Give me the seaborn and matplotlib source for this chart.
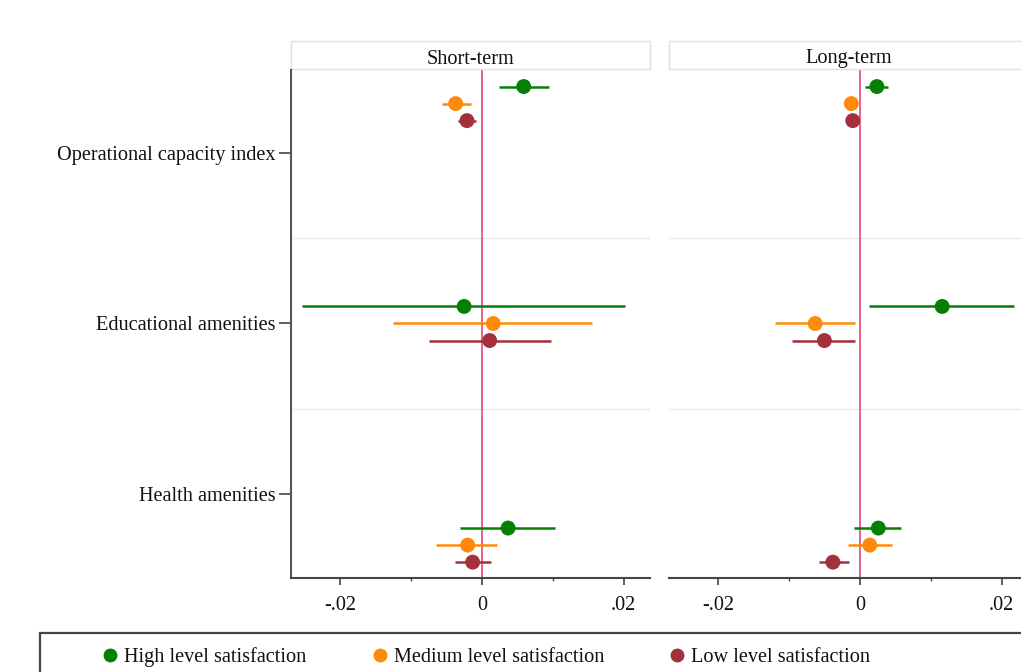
import matplotlib
matplotlib.use("Agg")
import matplotlib.pyplot as plt
from matplotlib.patches import Rectangle
from matplotlib.lines import Line2D
import numpy as np
import pandas as pd
import seaborn as sns

# ---------------- data ----------------
rows = ["Operational capacity index", "Educational amenities", "Health amenities"]
series = ["High level satisfaction", "Medium level satisfaction", "Low level satisfaction"]
panels = ["Short-term", "Long-term"]

# Short-term
short_high = [0.0059, -0.0025, 0.0037]
short_high_lo = [0.0024, -0.0254, -0.0031]
short_high_hi = [0.0094, 0.0202, 0.0103]
short_med = [-0.0037, 0.0016, -0.0020]
short_med_lo = [-0.0056, -0.0125, -0.0064]
short_med_hi = [-0.0015, 0.0155, 0.0021]
short_low = [-0.0021, 0.0011, -0.0013]
short_low_lo = [-0.0034, -0.0075, -0.0038]
short_low_hi = [-0.0008, 0.0098, 0.0013]

# Long-term
long_high = [0.0024, 0.0116, 0.0026]
long_high_lo = [0.0007, 0.0013, -0.0008]
long_high_hi = [0.0040, 0.0217, 0.0058]
long_med = [-0.0012, -0.0063, 0.0014]
long_med_lo = [-0.0015, -0.0119, -0.0017]
long_med_hi = [-0.0008, -0.0007, 0.0045]
long_low = [-0.0010, -0.0050, -0.0038]
long_low_lo = [-0.0013, -0.0095, -0.0058]
long_low_hi = [-0.0007, -0.0007, -0.0016]

xticks = [-0.02, 0.0, 0.02]
xticklabels = ["-.02", "0", ".02"]

# ---------------- layout / style ----------------
row_shift = [-0.29, 0.0, 0.30]
series_offset = [-0.1, 0.0, 0.1]
colors = ["#058005", "#ff8a0a", "#a3303a"]

records = []
panel_data = {
    "Short-term": [(short_high, short_high_lo, short_high_hi),
                   (short_med, short_med_lo, short_med_hi),
                   (short_low, short_low_lo, short_low_hi)],
    "Long-term": [(long_high, long_high_lo, long_high_hi),
                  (long_med, long_med_lo, long_med_hi),
                  (long_low, long_low_lo, long_low_hi)],
}
for p in panels:
    for si, s in enumerate(series):
        coef, lo, hi = panel_data[p][si]
        for ri, r in enumerate(rows):
            records.append(dict(panel=p, series=s, row=r, coef=coef[ri], lo=lo[ri], hi=hi[ri],
                                y=ri + row_shift[ri] + series_offset[si]))
df = pd.DataFrame(records)

sns.set_theme(style="white")
plt.rcParams["font.family"] = ["Liberation Serif", "DejaVu Serif"]
FS = 14.6

W, H = 1021, 672
fig = plt.figure(figsize=(W / 100, H / 100), dpi=100)
ax_l = fig.add_axes([291 / W, 1 - 578 / H, 359 / W, 508 / H])
ax_r = fig.add_axes([669 / W, 1 - 578 / H, 359 / W, 508 / H])
axes = [ax_l, ax_r]
palette = dict(zip(series, colors))

for ax, p in zip(axes, panels):
    sub = df[df.panel == p]
    # gridlines between rows
    for b in np.arange(len(rows) - 1) + 0.5:
        ax.axhline(b, color="#e3ebef", lw=1.0, zorder=0)
    ax.axvline(0, color="#e4467c", lw=1.2, zorder=1)
    for s in series:
        ss = sub[sub.series == s]
        ax.hlines(ss.y, ss.lo, ss.hi, color=palette[s], lw=1.8, zorder=2)
    sns.scatterplot(data=sub, x="coef", y="y", hue="series", palette=palette,
                    s=115, linewidth=0, ax=ax, legend=False, zorder=3)
    ax.set_xlim(-0.0269, 0.0237)
    ax.set_ylim(2.493, -0.487)
    ax.set_xlabel("")
    ax.set_ylabel("")
    ax.set_xticks(xticks)
    ax.set_xticklabels(xticklabels, fontsize=FS)
    ax.set_xticks([-0.01, 0.01], minor=True)
    ax.tick_params(axis="x", which="major", direction="out", length=5, width=1.2,
                   color="#444444", pad=8, bottom=True, labelcolor="#111111")
    ax.tick_params(axis="x", which="minor", direction="out", length=2, width=1.0,
                   color="#444444", bottom=True)
    for sp in ["top", "right"]:
        ax.spines[sp].set_visible(False)
    ax.spines["bottom"].set_color("#444444")
    ax.spines["bottom"].set_linewidth(1.5)
    # strip header
    ax.add_patch(Rectangle((0.0, 1.0 + 1 / 508), 1.0, 28 / 508, transform=ax.transAxes,
                           facecolor="white", edgecolor="#d5e3ea", lw=1.0, clip_on=False))
    ax.text(0.5, 1.0 + 11 / 508, p, transform=ax.transAxes, ha="center", va="center",
            fontsize=FS, color="#111111")

ax_l.set_yticks(range(len(rows)))
ax_l.set_yticklabels(rows, fontsize=FS, color="#111111")
ax_l.tick_params(axis="y", direction="out", length=9, width=1.2, color="#444444", pad=2, left=True)
ax_l.spines["left"].set_color("#555555")
ax_l.spines["left"].set_linewidth(1.5)
ax_r.set_yticks([])
ax_r.spines["left"].set_visible(False)

# legend box
fig.patches.append(Rectangle((40 / W, -0.2), (1200 - 40) / W, 0.2 + (672 - 633) / H,
                             transform=fig.transFigure, fill=False, edgecolor="#444444", lw=1.6))
handles = [Line2D([0], [0], marker="o", color="none", markerfacecolor=c, markeredgewidth=0,
                  markersize=10) for c in colors]
fig.legend(handles, series, loc="center left", bbox_to_anchor=(100 / W, 1 - 657 / H), ncol=3,
           frameon=False, fontsize=FS, handlelength=1.0, handletextpad=0.2,
           columnspacing=3.1, borderaxespad=0, borderpad=0, labelcolor="#111111")

fig.savefig("out.png", dpi=100)
